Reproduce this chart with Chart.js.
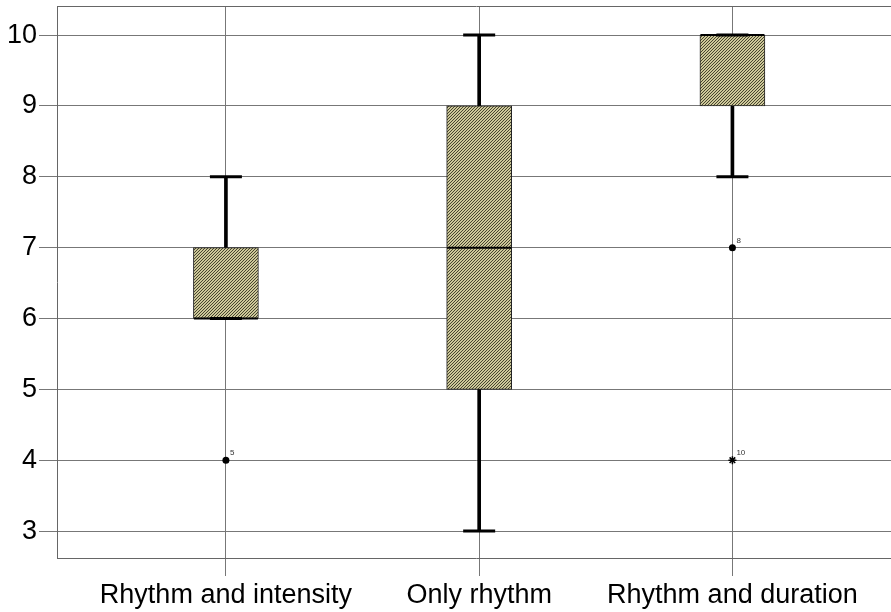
<!DOCTYPE html>
<html>
<head>
<meta charset="utf-8">
<script src="https://cdn.jsdelivr.net/npm/chart.js@4/dist/chart.umd.min.js"></script>
<style>
  html, body { margin: 0; background: #fff; overflow: hidden; }
</style>
</head>
<body>
<!-- canvas a bit wider than the window: the frame's right edge is cut off like in the original -->
<canvas id="chart" width="895" height="612"></canvas>
<script>
// data
const categories = ["Rhythm and intensity", "Only rhythm", "Rhythm and duration"];
const q1 = [6, 5, 9];
const q3 = [7, 9, 10];
const medians = [6, 7, 10];
const whiskerLow = [6, 3, 8];
const whiskerHigh = [8, 10, 10];
const outlierCat = [1, 3];
const outlierVal = [4, 7];
const outlierCase = ["5", "8"];
const extremeCat = [3];
const extremeVal = [4];
const extremeCase = ["10"];
const yTicks = [3, 4, 5, 6, 7, 8, 9, 10];

// hatched fill for the boxes
const pc = document.createElement("canvas");
pc.width = 3; pc.height = 3;
const pctx = pc.getContext("2d");
pctx.fillStyle = "#cdc899";
pctx.fillRect(0, 0, 3, 3);
pctx.fillStyle = "#47442f";
for (let i = 0; i < 3; i++) pctx.fillRect(i, 2 - i, 1, 1);
const hatch = pctx.createPattern(pc, "repeat");

const boxes = categories.map((c, i) => ({ x: i + 1, y: [q1[i], q3[i]] }));
const stems = [];
categories.forEach((c, i) => {
  if (whiskerHigh[i] > q3[i]) stems.push({ x: i + 1, y: [q3[i], whiskerHigh[i]] });
  if (whiskerLow[i] < q1[i]) stems.push({ x: i + 1, y: [whiskerLow[i], q1[i]] });
});
const caps = [];
categories.forEach((c, i) => {
  caps.push({ x: i + 1, y: whiskerHigh[i] });
  caps.push({ x: i + 1, y: whiskerLow[i] });
});
const medianPts = medians.map((v, i) => ({ x: i + 1, y: v }));
const outPts = outlierCat.map((c, i) => ({ x: c, y: outlierVal[i] }));
const extPts = extremeCat.map((c, i) => ({ x: c, y: extremeVal[i] }));

// small case numbers next to outliers
const caseLabels = {
  id: "caseLabels",
  afterDatasetsDraw(chart) {
    const ctx = chart.ctx;
    chart.data.datasets.forEach((ds, di) => {
      if (!ds.caseLabels) return;
      chart.getDatasetMeta(di).data.forEach((el, j) => {
        ctx.save();
        ctx.font = "8px 'Liberation Sans', Arial, sans-serif";
        ctx.fillStyle = "#333";
        ctx.textBaseline = "middle";
        ctx.fillText(ds.caseLabels[j], el.x + 4, el.y - 7);
        ctx.restore();
      });
    });
  }
};

// no extra room for labels, the plot frame is fixed
function noPad(s) {
  s.paddingTop = 0; s.paddingBottom = 0;
  s.paddingLeft = 0; s.paddingRight = 0;
}

const font = { family: "'Liberation Sans', Arial, sans-serif", size: 27 };
const gridColor = "#777";

new Chart(document.getElementById("chart"), {
  type: "bar",
  data: {
    datasets: [
      { data: stems, backgroundColor: "#000", barThickness: 3, grouped: false, order: 4 },
      { data: boxes, backgroundColor: hatch, borderColor: "#222", borderWidth: 1,
        borderSkipped: false, barThickness: 65, grouped: false, order: 3 },
      { type: "scatter", data: medianPts, pointStyle: "line", radius: 32, borderWidth: 2,
        borderColor: "#000", order: 2 },
      { type: "scatter", data: caps, pointStyle: "line", radius: 16, borderWidth: 3,
        borderColor: "#000", order: 1 },
      { type: "scatter", data: outPts, pointStyle: "circle", radius: 3.5, backgroundColor: "#000",
        borderColor: "#000", borderWidth: 0, caseLabels: outlierCase, order: 0 },
      { type: "scatter", data: extPts, pointStyle: "star", radius: 4, borderColor: "#000",
        borderWidth: 1.5, caseLabels: extremeCase, order: 0 }
    ]
  },
  options: {
    responsive: false,
    animation: false,
    layout: { autoPadding: false, padding: { top: 6, left: 0, right: 0, bottom: 0 } },
    plugins: { legend: { display: false }, tooltip: { enabled: false } },
    scales: {
      x: {
        type: "linear",
        offset: false,
        min: 0.333,
        max: 3.642,
        afterBuildTicks: s => { s.ticks = categories.map((c, i) => ({ value: i + 1 })); },
        afterFit: s => { s.height = 54; noPad(s); },
        ticks: {
          callback: v => categories[v - 1] || "",
          font: font, color: "#000", padding: 3, maxRotation: 0, autoSkip: false
        },
        grid: { offset: false, color: gridColor, tickLength: 18, tickColor: gridColor },
        border: { color: "#666" }
      },
      xt: {
        type: "linear",
        position: "top",
        afterFit: s => { s.height = 0; noPad(s); },
        ticks: { display: false },
        grid: { display: false, drawTicks: false },
        border: { display: true, color: "#666" }
      },
      y: {
        min: 2.62,
        max: 10.41,
        afterBuildTicks: s => { s.ticks = yTicks.map(v => ({ value: v })); },
        afterFit: s => { s.width = 57; noPad(s); },
        ticks: { font: font, color: "#000", padding: 2 },
        grid: { color: gridColor, tickLength: 18, tickColor: gridColor },
        border: { color: "#666" }
      }
    }
  },
  plugins: [caseLabels]
});
</script>
</body>
</html>
